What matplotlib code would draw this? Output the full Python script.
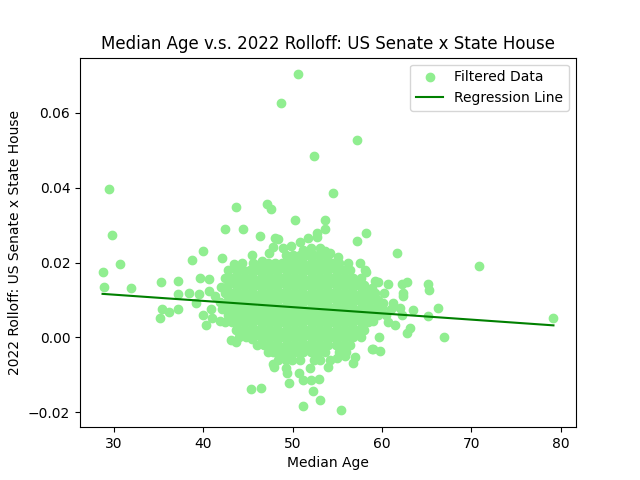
import numpy as np
import matplotlib
matplotlib.use("Agg")
import matplotlib.pyplot as plt

# ── Data ────────────────────────────────────────────────────────────────────
# scattered points around the dense cloud: (median age, rolloff)
outer_age = [50.6, 48.7, 52.4, 57.2, 29.4, 29.8, 54.5, 43.6, 47.1, 47.6,
             42.4, 44.4, 50.2, 53.6, 53.6, 46.3, 58.2, 57.2, 61.7, 45.4,
             70.9, 79.2, 52.7, 52.7, 51.7, 48.0, 48.4, 53.0,
             47.8, 48.9, 50.8, 49.8, 54.2, 55.1, 56.2, 58.1, 59.2, 46.6,
             52.0, 51.2, 53.6, 47.3, 44.3, 43.4,
             28.7, 30.6, 28.9, 31.9, 35.3, 37.1, 38.7, 39.9, 42.1, 37.2,
             35.4, 36.1, 37.1, 35.1, 39.6, 40.6, 38.4, 39.2, 39.9, 40.3,
             41.0, 40.6, 40.9, 41.3, 41.8, 39.5, 42.0, 42.1, 41.9,
             43.7, 45.4, 45.3, 46.4, 47.8, 47.9, 47.8, 49.0, 49.9, 49.3,
             49.4, 49.6, 50.7, 51.2, 52.3, 53.1, 52.9, 52.1, 51.1, 51.9,
             53.9, 55.4, 56.7, 57.0, 58.9, 59.8, 59.7, 54.2, 55.0, 55.8, 53.0,
             43.1, 49.3, 52.7, 59.0,
             57.5, 58.2, 59.6, 60.7, 62.2, 62.8, 65.2, 65.3, 62.4, 62.3,
             66.3, 65.1, 66.9, 63.1, 62.8, 61.5, 60.7, 60.1, 61.2, 58.9,
             60.2, 61.0, 62.0, 63.5, 60.5, 59.0, 62.2]
outer_rolloff = [0.0703, 0.0626, 0.0484, 0.0527, 0.0396, 0.0273, 0.0385, 0.0348, 0.0356, 0.0342,
                 0.0291, 0.0291, 0.0313, 0.0315, 0.0291, 0.0270, 0.0278, 0.0257, 0.0227, 0.0220,
                 0.0190, 0.0053, 0.0278, 0.0268, 0.0265, 0.0267, 0.0262, 0.0238,
                 0.0241, 0.0238, 0.0254, 0.0245, 0.0227, 0.0214, 0.0198, 0.0179, 0.0152, 0.0203,
                 0.0240, 0.0235, 0.0232, 0.0225, 0.0200, 0.0195,
                 0.0174, 0.0195, 0.0136, 0.0131, 0.0147, 0.0152, 0.0208, 0.0230, 0.0211, 0.0115,
                 0.0075, 0.0069, 0.0077, 0.0051, 0.0158, 0.0155, 0.0120, 0.0091, 0.0061, 0.0032,
                 0.0051, 0.0123, 0.0077, 0.0110, 0.0095, 0.0115, 0.0135, 0.0075, 0.0045,
                 -0.0013, -0.0005, -0.0139, -0.0134, -0.0040, -0.0078, -0.0072, -0.0056, -0.0061, -0.0083,
                 -0.0096, -0.0123, -0.0096, -0.0182, -0.0144, -0.0166, -0.0110, -0.0113, -0.0115, -0.0083,
                 -0.0078, -0.0195, -0.0067, -0.0053, -0.0032, -0.0035, 0.0000, -0.0060, -0.0055, -0.0050, -0.0060,
                 -0.0008, -0.0048, -0.0048, -0.0030,
                 0.0198, 0.0174, 0.0147, 0.0144, 0.0144, 0.0147, 0.0142, 0.0126, 0.0118, 0.0110,
                 0.0078, 0.0056, 0.0000, 0.0024, 0.0011, 0.0032, 0.0040, 0.0091, 0.0091, 0.0131,
                 0.0118, 0.0075, 0.0080, 0.0072, 0.0060, 0.0045, 0.0059]

# dense core of the cloud, one list of ages per rolloff band
core_levels = [0.022, 0.020, 0.018, 0.016, 0.014, 0.012, 0.010,
               0.008, 0.006, 0.004, 0.002, 0.000, -0.002, -0.004, -0.006]
core_ages = [
    [49.2, 50.0, 50.8, 51.6, 52.4, 53.2, 54.0],
    [45.6, 46.4, 47.2, 48.0, 48.8, 49.6, 50.4, 51.2, 52.0, 52.8, 53.6, 54.4, 55.2],
    [42.8, 43.6, 44.4, 45.2, 46.0, 46.8, 47.6, 48.4, 49.2, 50.0, 50.8, 51.6, 52.4, 53.2,
     54.0, 54.8, 55.6, 56.4],
    [42.4, 43.2, 44.0, 44.8, 45.6, 46.4, 47.2, 48.0, 48.8, 49.6, 50.4, 51.2, 52.0, 52.8,
     53.6, 54.4, 55.2, 56.0, 56.8, 57.6],
    [42.8, 43.6, 44.4, 45.2, 46.0, 46.8, 47.6, 48.4, 49.2, 50.0, 50.8, 51.6, 52.4, 53.2,
     54.0, 54.8, 55.6, 56.4, 57.2, 58.0],
    [42.4, 43.2, 44.0, 44.8, 45.6, 46.4, 47.2, 48.0, 48.8, 49.6, 50.4, 51.2, 52.0, 52.8,
     53.6, 54.4, 55.2, 56.0, 56.8, 57.6, 58.4, 59.2],
    [42.8, 43.6, 44.4, 45.2, 46.0, 46.8, 47.6, 48.4, 49.2, 50.0, 50.8, 51.6, 52.4, 53.2,
     54.0, 54.8, 55.6, 56.4, 57.2, 58.0, 58.8, 59.6],
    [42.4, 43.2, 44.0, 44.8, 45.6, 46.4, 47.2, 48.0, 48.8, 49.6, 50.4, 51.2, 52.0, 52.8,
     53.6, 54.4, 55.2, 56.0, 56.8, 57.6, 58.4, 59.2, 60.0],
    [42.8, 43.6, 44.4, 45.2, 46.0, 46.8, 47.6, 48.4, 49.2, 50.0, 50.8, 51.6, 52.4, 53.2,
     54.0, 54.8, 55.6, 56.4, 57.2, 58.0, 58.8, 59.6],
    [42.4, 43.2, 44.0, 44.8, 45.6, 46.4, 47.2, 48.0, 48.8, 49.6, 50.4, 51.2, 52.0, 52.8,
     53.6, 54.4, 55.2, 56.0, 56.8, 57.6, 58.4],
    [43.6, 44.4, 45.2, 46.0, 46.8, 47.6, 48.4, 49.2, 50.0, 50.8, 51.6, 52.4, 53.2, 54.0,
     54.8, 55.6, 56.4, 57.2, 58.0],
    [44.0, 44.8, 45.6, 46.4, 47.2, 48.0, 48.8, 49.6, 50.4, 51.2, 52.0, 52.8, 53.6, 54.4,
     55.2, 56.0, 56.8, 57.6],
    [46.0, 46.8, 47.6, 48.4, 49.2, 50.0, 50.8, 51.6, 52.4, 53.2, 54.0, 54.8, 55.6, 56.4],
    [47.2, 48.0, 48.8, 49.6, 50.4, 51.2, 52.0, 52.8, 53.6, 55.2, 56.0],
    [48.4, 49.2, 50.8, 52.4],
]

# regression line
slope = -0.0001667
intercept = 0.01643

# ── Assemble ────────────────────────────────────────────────────────────────
age = list(outer_age)
rolloff = list(outer_rolloff)
for level, ages in zip(core_levels, core_ages):
    age += ages
    rolloff += [level] * len(ages)
age = np.array(age)
rolloff = np.array(rolloff)

line_x = np.array([age.min(), age.max()])
line_y = intercept + slope * line_x

# ── Plot ────────────────────────────────────────────────────────────────────
fig, ax = plt.subplots(figsize=(6.4, 4.8), dpi=100)
ax.scatter(age, rolloff, color="lightgreen", label="Filtered Data")
ax.plot(line_x, line_y, color="green", label="Regression Line")
ax.set_title("Median Age v.s. 2022 Rolloff: US Senate x State House")
ax.set_xlabel("Median Age")
ax.set_ylabel("2022 Rolloff: US Senate x State House")
ax.legend(loc="upper right")
plt.savefig("out.png", dpi=100)
